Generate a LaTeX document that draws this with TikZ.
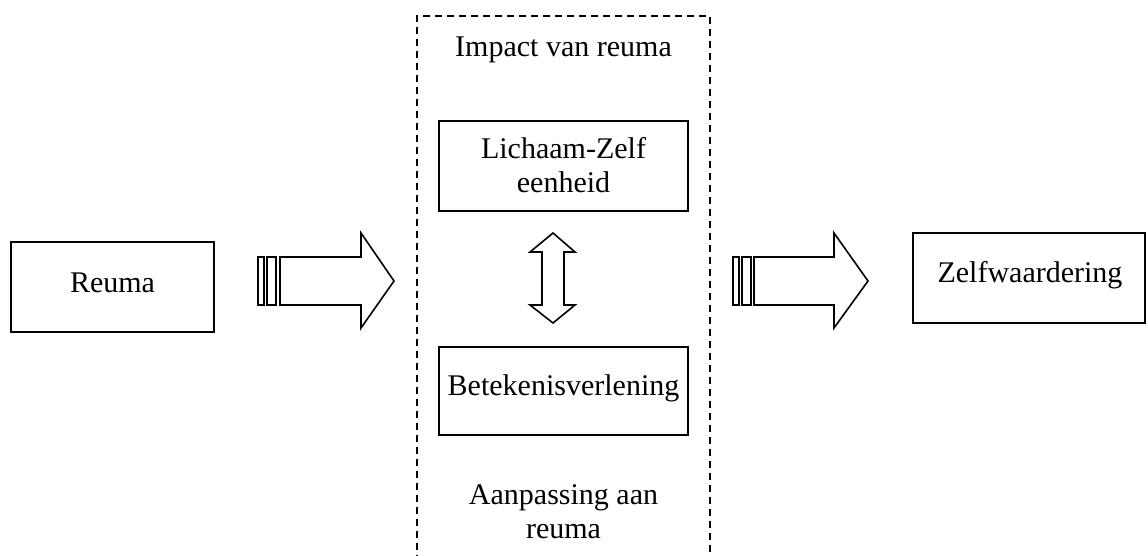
\documentclass[tikz,border=0pt]{standalone}
\usepackage{fontspec}
\setmainfont{Liberation Serif}
\begin{document}
\begin{tikzpicture}[x=1pt,y=-1pt,
  every node/.style={font=\fontsize{30}{34}\selectfont},
  boxnode/.style={draw, line width=1.7pt},
  blockarrow/.style={draw, line width=1.6pt, line join=miter},
  framebox/.style={draw, line width=1.5pt, dash pattern=on 7pt off 5pt}]
\useasboundingbox (0,0) rectangle (1148,556);
% dashed frame
\draw[framebox] (417,562) -- (417,16) -- (710,16) -- (710,562);
% boxes
\draw[boxnode] (11,242) rectangle (214,332);
\node[anchor=base] (reuma) at (112.5,292) {Reuma};
\draw[boxnode] (913,233) rectangle (1145,323);
\node[anchor=base] (zelf) at (1030,282) {Zelfwaardering};
\draw[boxnode] (439,121) rectangle (688,211);
\node[anchor=base, align=center] (lich) at (563.5,193) {Lichaam-Zelf\\eenheid};
\draw[boxnode] (439,347) rectangle (688,435);
\node[anchor=base] (bet) at (563.5,395) {Betekenisverlening};
\node[anchor=base] (impact) at (563.5,57) {Impact van reuma};
\node[anchor=base, align=center] (aanp) at (563.5,538) {Aanpassing aan\\reuma};
% left block arrow
\draw[blockarrow] (258,257) rectangle (264,305);
\draw[blockarrow] (267,257) rectangle (276,305);
\draw[blockarrow] (280,257) -- (361,257) -- (361,233) -- (394,281) -- (361,328) -- (361,305) -- (280,305) -- cycle;
% right block arrow
\draw[blockarrow] (733,257) rectangle (739,305);
\draw[blockarrow] (742,257) rectangle (751,305);
\draw[blockarrow] (754,257) -- (834,257) -- (834,233) -- (868,281) -- (834,328) -- (834,305) -- (754,305) -- cycle;
% double vertical arrow
\draw[blockarrow] (553,233) -- (575,252) -- (564,252) -- (564,305) -- (575,305) -- (553,323) -- (530,305) -- (542,305) -- (542,252) -- (530,252) -- cycle;
\end{tikzpicture}
\end{document}
